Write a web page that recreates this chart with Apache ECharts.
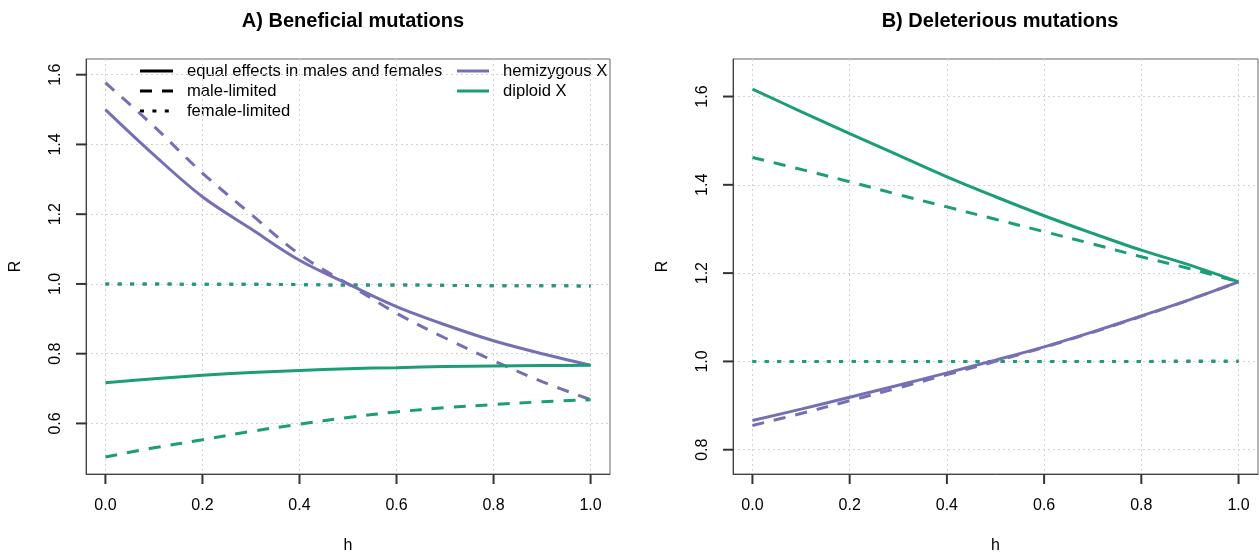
<!DOCTYPE html>
<html>
<head>
<meta charset="utf-8">
<script src="https://cdn.jsdelivr.net/npm/echarts@6/dist/echarts.min.js"></script>
<style>
html,body{margin:0;padding:0;background:#fff;}
#chart{width:1259px;height:553px;}
</style>
</head>
<body>
<div id="chart"></div>
<script>
// ---- data ----
var hValues = [0, 0.1, 0.2, 0.3, 0.4, 0.5, 0.6, 0.7, 0.8, 0.9, 1.0];
var xTicks = [0, 0.2, 0.4, 0.6, 0.8, 1.0];
var yTicksA = [0.6, 0.8, 1.0, 1.2, 1.4, 1.6];
var yTicksB = [0.8, 1.0, 1.2, 1.4, 1.6];

// A) Beneficial mutations
var hemiEqualA  = [1.5, 1.37, 1.25, 1.158, 1.068, 1.0, 0.935, 0.883, 0.837, 0.80, 0.767];
var hemiMaleA   = [1.577, 1.452, 1.318, 1.2, 1.085, 1.0, 0.916, 0.845, 0.78, 0.72, 0.668];
var hemiFemaleA = [1.0, 1.0, 0.999, 0.999, 0.998, 0.997, 0.997, 0.996, 0.995, 0.995, 0.994];
var dipEqualA   = [0.717, 0.728, 0.738, 0.746, 0.752, 0.757, 0.760, 0.763, 0.765, 0.766, 0.767];
var dipMaleA    = [0.504, 0.53, 0.553, 0.577, 0.598, 0.617, 0.633, 0.645, 0.654, 0.662, 0.668];
var dipFemaleA  = [1.0, 1.0, 0.999, 0.999, 0.998, 0.997, 0.997, 0.996, 0.995, 0.995, 0.994];

// B) Deleterious mutations
var hemiEqualB  = [0.866, 0.892, 0.919, 0.946, 0.974, 1.003, 1.033, 1.067, 1.103, 1.14, 1.18];
var hemiMaleB   = [0.855, 0.882, 0.911, 0.94, 0.97, 1.0, 1.032, 1.066, 1.102, 1.14, 1.18];
var hemiFemaleB = [1.0, 1.0, 1.0, 1.0, 1.0, 1.0, 1.0, 1.0, 1.0, 1.0, 1.0];
var dipEqualB   = [1.617, 1.566, 1.516, 1.467, 1.418, 1.373, 1.33, 1.29, 1.252, 1.218, 1.18];
var dipMaleB    = [1.462, 1.435, 1.407, 1.378, 1.35, 1.322, 1.294, 1.266, 1.237, 1.21, 1.18];
var dipFemaleB  = [1.0, 1.0, 1.0, 1.0, 1.0, 1.0, 1.0, 1.0, 1.0, 1.001, 1.001];

var titles = ['A) Beneficial mutations', 'B) Deleterious mutations'];
var legendTypes = ['equal effects in males and females', 'male-limited', 'female-limited'];
var legendGroups = ['hemizygous X', 'diploid X'];

// ---- styling / layout ----
var PURPLE = '#7570B3', GREEN = '#1B9E77';
var FONT = 'Liberation Sans, Arial, sans-serif';
var DASH = [12, 10], DOT = [4, 8.4];
var TICK_LEN = 10;

function pairs(ys) { return hValues.map(function (h, i) { return [h, ys[i]]; }); }

function lineSeries(idx, ys, color, type) {
  return {
    type: 'line', xAxisIndex: idx, yAxisIndex: idx, data: pairs(ys),
    showSymbol: false, smooth: 0.35, silent: true, animation: false,
    lineStyle: { color: color, width: 3, type: type }
  };
}

// R-style outward tick marks drawn with a custom series through the axes' scales
function tickSeries(idx, yT) {
  var data = xTicks.map(function (v) { return [v, yT[0], 0]; })
    .concat(yT.map(function (v) { return [xTicks[0], v, 1]; }));
  return {
    type: 'custom', xAxisIndex: idx, yAxisIndex: idx, silent: true, clip: false, z: 10,
    dimensions: ['x', 'y', 'kind'],
    encode: { x: 0, y: 1 },
    data: data,
    renderItem: function (params, api) {
      var cs = params.coordSys;
      var p = api.coord([api.value(0), api.value(1)]);
      var isY = api.value(2) === 1;
      var shape = isY
        ? { x1: cs.x - TICK_LEN, y1: p[1], x2: cs.x, y2: p[1] }
        : { x1: p[0], y1: cs.y + cs.height, x2: p[0], y2: cs.y + cs.height + TICK_LEN };
      return { type: 'line', shape: shape, style: { stroke: '#333', lineWidth: 2 } };
    }
  };
}

function xAxisDef(idx) {
  return {
    type: 'value', gridIndex: idx, min: -0.04, max: 1.04,
    name: 'h', nameLocation: 'middle', nameGap: 64,
    nameTextStyle: { fontFamily: FONT, fontSize: 16, color: '#000' },
    axisLine: { show: true, onZero: false, lineStyle: { color: '#444', width: 1 } },
    axisTick: { show: false, customValues: xTicks },
    axisLabel: { customValues: xTicks, margin: 24, fontFamily: FONT, fontSize: 16, color: '#000',
      formatter: function (v) { return v.toFixed(1); } },
    splitLine: { show: true, lineStyle: { color: '#d3d3d3', type: [2, 3], width: 1 } }
  };
}

function yAxisDef(idx, min, max, ticks) {
  return {
    type: 'value', gridIndex: idx, min: min, max: max,
    name: 'R', nameLocation: 'middle', nameGap: 62, nameRotate: 90,
    nameTextStyle: { fontFamily: FONT, fontSize: 16, color: '#000' },
    axisLine: { show: true, onZero: false, lineStyle: { color: '#444', width: 1 } },
    axisTick: { show: false, customValues: ticks },
    axisLabel: { customValues: ticks, rotate: 90, margin: 22, fontFamily: FONT, fontSize: 16, color: '#000',
      formatter: function (v) { return v.toFixed(1); } },
    splitLine: { show: true, lineStyle: { color: '#d3d3d3', type: [2, 3], width: 1 } }
  };
}

var chart = echarts.init(document.getElementById('chart'), null, { renderer: 'canvas' });

var legendGraphics = [];
var rowsY = [71, 91, 111];
var styles = ['solid', DASH, DOT];
legendTypes.forEach(function (t, i) {
  legendGraphics.push({ type: 'line', shape: { x1: 140, y1: rowsY[i], x2: 173, y2: rowsY[i] },
    style: { stroke: '#000', lineWidth: 3, lineDash: i === 0 ? null : styles[i] } });
  legendGraphics.push({ type: 'text', x: 187, y: rowsY[i], style: { text: t, fontFamily: FONT, fontSize: 16.6,
    fill: '#000', textVerticalAlign: 'middle', verticalAlign: 'middle' } });
});
legendGroups.forEach(function (t, i) {
  legendGraphics.push({ type: 'line', shape: { x1: 457, y1: rowsY[i], x2: 489, y2: rowsY[i] },
    style: { stroke: i === 0 ? PURPLE : GREEN, lineWidth: 3 } });
  legendGraphics.push({ type: 'text', x: 503, y: rowsY[i], style: { text: t, fontFamily: FONT, fontSize: 16.6,
    fill: '#000', textVerticalAlign: 'middle', verticalAlign: 'middle' } });
});

var gridBase = { show: true, borderColor: '#666', borderWidth: 1, backgroundColor: 'transparent',
  containLabel: false, outerBoundsMode: 'none' };

var option = {
  animation: false,
  backgroundColor: '#fff',
  title: [
    { text: titles[0], left: 348, top: 6, textAlign: 'center',
      textStyle: { fontFamily: FONT, fontSize: 20, fontWeight: 'bold', color: '#000' } },
    { text: titles[1], left: 995, top: 6, textAlign: 'center',
      textStyle: { fontFamily: FONT, fontSize: 20, fontWeight: 'bold', color: '#000' } }
  ],
  grid: [
    Object.assign({ left: 86, top: 59, width: 524, height: 415 }, gridBase),
    Object.assign({ left: 733, top: 59, width: 525, height: 415 }, gridBase)
  ],
  xAxis: [xAxisDef(0), xAxisDef(1)],
  yAxis: [yAxisDef(0, 0.455, 1.645, yTicksA), yAxisDef(1, 0.745, 1.685, yTicksB)],
  series: [
    lineSeries(0, hemiFemaleA, PURPLE, DOT),
    lineSeries(0, dipFemaleA, GREEN, DOT),
    lineSeries(0, hemiEqualA, PURPLE, 'solid'),
    lineSeries(0, hemiMaleA, PURPLE, DASH),
    lineSeries(0, dipEqualA, GREEN, 'solid'),
    lineSeries(0, dipMaleA, GREEN, DASH),
    lineSeries(1, hemiFemaleB, PURPLE, DOT),
    lineSeries(1, dipFemaleB, GREEN, DOT),
    lineSeries(1, hemiEqualB, PURPLE, 'solid'),
    lineSeries(1, hemiMaleB, PURPLE, DASH),
    lineSeries(1, dipEqualB, GREEN, 'solid'),
    lineSeries(1, dipMaleB, GREEN, DASH),
    tickSeries(0, yTicksA),
    tickSeries(1, yTicksB)
  ],
  graphic: legendGraphics
};
chart.setOption(option);
</script>
</body>
</html>
